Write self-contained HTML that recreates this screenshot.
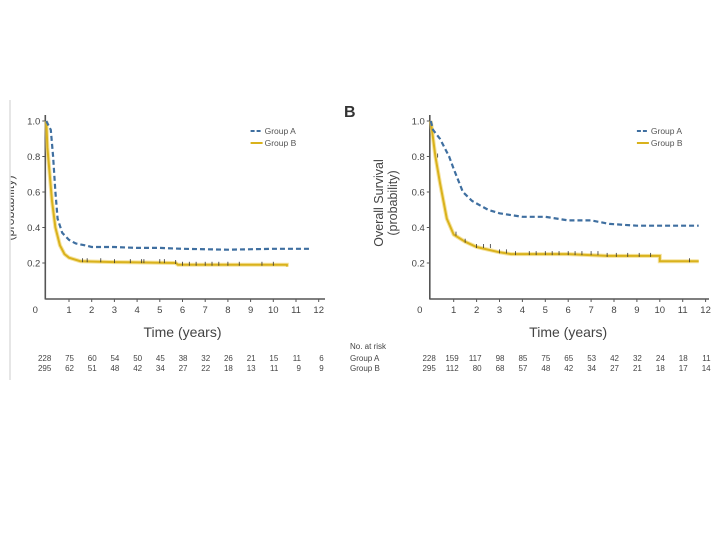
<!DOCTYPE html>
<html><head><meta charset="utf-8"><style>
html,body{margin:0;padding:0;background:#fff;}
svg{display:block;font-family:"Liberation Sans",sans-serif;}
</style></head><body>
<svg id="c" width="720" height="540">
<rect x="0" y="0" width="720" height="540" fill="#fff"/>
<defs><clipPath id="clipL"><rect x="10.8" y="0" width="400" height="540"/></clipPath></defs>
<line x1="10" y1="100" x2="10" y2="380" stroke="#ddd" stroke-width="1.5"/>
<g clip-path="url(#clipL)">
<text x="208" y="14" transform="translate(0,416) rotate(-90)" text-anchor="middle" font-size="12.5" fill="#444">(probability)</text>
</g>
<text x="344" y="117" font-size="16" font-weight="bold" fill="#333">B</text>
<text x="383" y="203" transform="rotate(-90 383 203)" text-anchor="middle" font-size="12.5" fill="#444">Overall Survival</text>
<text x="397" y="203" transform="rotate(-90 397 203)" text-anchor="middle" font-size="12.5" fill="#444">(probability)</text>
<text x="350" y="349" font-size="8" fill="#444">No. at risk</text>
<text x="350" y="361" font-size="8" fill="#444">Group A</text>
<text x="350" y="371" font-size="8" fill="#444">Group B</text>
</svg>
<script>
var xTicks=[0,1,2,3,4,5,6,7,8,9,10,11,12];
var yTicks=[0.2,0.4,0.6,0.8,1.0];
var yTickLabels=["0.2","0.4","0.6","0.8","1.0"];
var leftA_t=[0,0.2,0.3,0.4,0.5,0.7,1,1.3,1.7,2,3,4,5,6,8,10,11.7];
var leftA_s=[1,0.95,0.8,0.6,0.45,0.37,0.33,0.31,0.3,0.29,0.29,0.285,0.285,0.28,0.275,0.28,0.28];
var leftB_t=[0,0.05,0.15,0.25,0.4,0.6,0.8,1,1.5,3,5.7,5.8,10.6,10.6];
var leftB_s=[1,0.85,0.7,0.55,0.4,0.3,0.25,0.23,0.21,0.205,0.2,0.19,0.19,0.18];
var rightA_t=[0,0.1,0.4,0.8,1,1.4,1.8,2.5,3,4,5,6,7,7.8,9,10,11.7];
var rightA_s=[1,0.95,0.9,0.8,0.73,0.6,0.55,0.5,0.48,0.46,0.46,0.44,0.44,0.42,0.41,0.41,0.41];
var rightB_t=[0,0.2,0.4,0.7,1,1.5,2,3,3.5,6,7.7,10,10,11.7];
var rightB_s=[1,0.8,0.65,0.45,0.36,0.32,0.29,0.26,0.25,0.25,0.24,0.24,0.21,0.21];
var leftB_cens=[1.6,1.8,2.4,3,3.7,4.2,4.3,5,5.2,5.7,6,6.3,6.6,7,7.3,7.6,8,8.5,9.5,10];
var rightB_cens=[0.3,1.1,1.5,2,2.3,2.6,3,3.3,3.7,4.3,4.6,5,5.3,5.6,6,6.3,6.6,7,7.3,7.7,8.1,8.6,9.1,9.6,11.3];
var leftRiskA=[228,75,60,54,50,45,38,32,26,21,15,11,6];
var leftRiskB=[295,62,51,48,42,34,27,22,18,13,11,9,9];
var rightRiskA=[228,159,117,98,85,75,65,53,42,32,24,18,11];
var rightRiskB=[295,112,80,68,57,48,42,34,27,21,18,17,14];
var NS="http://www.w3.org/2000/svg",svg=document.getElementById('c');
function mk(tag,at,txt){var e=document.createElementNS(NS,tag);for(var k in at)e.setAttribute(k,at[k]);if(txt!==undefined)e.textContent=txt;svg.appendChild(e);return e;}
function panel(p,x0,dx,xEnd,A_t,A_s,B_t,B_s,cens,rA,rB){
  function X(t){return x0+t*dx;} function Y(s){return 298.5-s*177.5;}
  var e;
  e=mk('line',{x1:X(0)-1,y1:115,x2:X(0)-1,y2:299.5,stroke:'#555','stroke-width':1.6});
  
  e=mk('line',{x1:X(0)-1,y1:299,x2:xEnd,y2:299,stroke:'#555','stroke-width':1.6});
  
  yTicks.forEach(function(v,i){
    e=mk('line',{x1:X(0)-4,y1:Y(v),x2:X(0)-1,y2:Y(v),stroke:'#555'});
    
    e=mk('text',{x:X(0)-6,y:Y(v)+3.5,'text-anchor':'end','font-size':9.5,fill:'#444'},yTickLabels[i]);
    
  });
  xTicks.forEach(function(v){
    if(v>0){e=mk('line',{x1:X(v),y1:299,x2:X(v),y2:302,stroke:'#555'});
    }
    e=mk('text',{x:v==0?X(0)-11:X(v),y:313,'text-anchor':'middle','font-size':9.5,fill:'#444'},String(v));
    
  });
  e=mk('text',{x:X(6),y:337,'text-anchor':'middle','font-size':14,fill:'#444'},'Time (years)');
  
  function step(ts,ss){var d='M'+X(ts[0])+','+Y(ss[0]);for(var i=1;i<ts.length;i++)d+=' L'+X(ts[i]).toFixed(1)+','+Y(ss[i]).toFixed(1);return d;}
  e=mk('path',{d:step(B_t,B_s),fill:'none',stroke:'#f0d060','stroke-width':4,'stroke-opacity':0.6});
  
  e=mk('path',{d:step(B_t,B_s),fill:'none',stroke:'#d9b21c','stroke-width':2});
  
  cens.forEach(function(t){var s=B_s[0];for(var i=0;i<B_t.length;i++)if(B_t[i]<=t)s=B_s[i];
    e=mk('line',{x1:X(t),y1:Y(s)-3,x2:X(t),y2:Y(s)+1,stroke:'#333','stroke-width':0.8});
    });
  e=mk('path',{d:step(A_t,A_s),fill:'none',stroke:'#3f6fa0','stroke-width':2.2,'stroke-dasharray':'5,3'});
  
  var lx=X(9);
  e=mk('line',{x1:lx,y1:131,x2:lx+12,y2:131,stroke:'#3f6fa0','stroke-width':2,'stroke-dasharray':'4,2'});
  
  e=mk('text',{x:lx+14,y:134,'font-size':8.5,fill:'#555'},'Group A');
  
  e=mk('line',{x1:lx,y1:143,x2:lx+12,y2:143,stroke:'#d9b21c','stroke-width':2});
  
  e=mk('text',{x:lx+14,y:146,'font-size':8.5,fill:'#555'},'Group B');
  
  xTicks.forEach(function(v,i){
    e=mk('text',{x:X(v)+5,y:361,'text-anchor':'end','font-size':8,fill:'#444'},String(rA[i]));
    
    e=mk('text',{x:X(v)+5,y:371,'text-anchor':'end','font-size':8,fill:'#444'},String(rB[i]));
    
  });
}
panel('left',46.3,22.7,325,leftA_t,leftA_s,leftB_t,leftB_s,leftB_cens,leftRiskA,leftRiskB);
panel('right',430.8,22.9,709,rightA_t,rightA_s,rightB_t,rightB_s,rightB_cens,rightRiskA,rightRiskB);
</script>
</body></html>
